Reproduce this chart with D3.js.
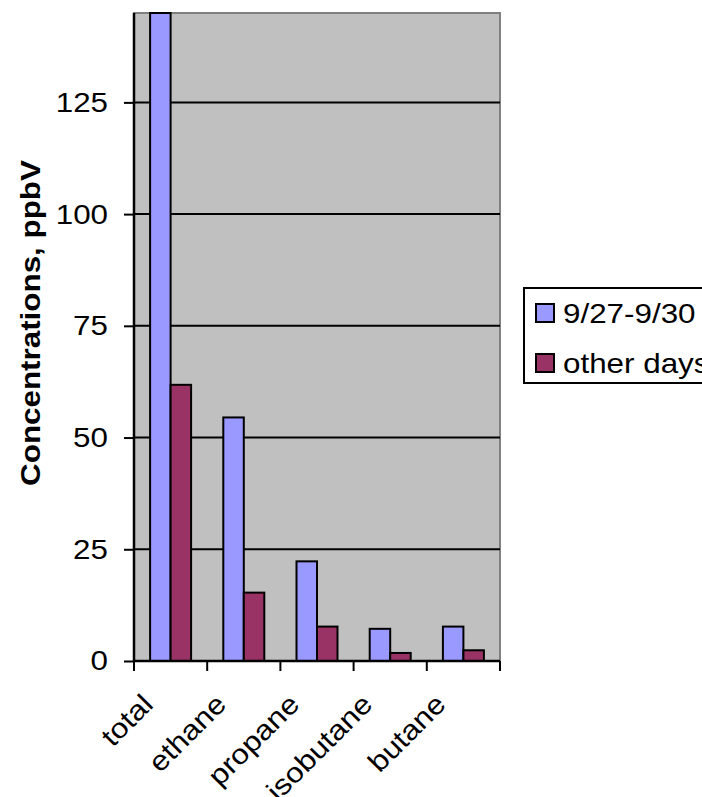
<!DOCTYPE html>
<html>
<head>
<meta charset="utf-8">
<script src="https://cdn.jsdelivr.net/npm/d3@7"></script>
<style>
  body { margin: 0; background: #fff; }
  text { font-family: Arial, "Liberation Sans", sans-serif; }
</style>
</head>
<body>
<div id="chart"></div>
<script>
// Data
const categories = ["total", "ethane", "propane", "isobutane", "butane"];
const seriesNames = ["9/27-9/30", "other days"];
const seriesA = [145, 54.5, 22.3, 7.2, 7.7];
const seriesB = [61.8, 15.3, 7.7, 1.8, 2.4];
const yTicks = [0, 25, 50, 75, 100, 125];
const colors = ["#9999FF", "#993366"];

const W = 702, H = 797;
const FS = 28;        // font size
const STRETCH = 1.12; // the source text is a bit wider than Arial

const margin = { top: 13, right: 202, bottom: 136, left: 134 },
    width = W - margin.left - margin.right,
    height = H - margin.top - margin.bottom;

const svg = d3.select("#chart")
    .append("svg")
    .attr("width", W)
    .attr("height", H);

const g = svg.append("g")
    .attr("transform", `translate(${margin.left},${margin.top})`);

// Scales
const x = d3.scaleBand()
    .domain(categories)
    .range([0, width])
    .paddingInner(0.44)
    .paddingOuter(0.22);
const xSub = d3.scaleBand()
    .domain(seriesNames)
    .range([0, x.bandwidth()]);
const y = d3.scaleLinear()
    .domain([0, 145])
    .range([height, 0]);

// Plot background
g.append("rect")
    .attr("width", width)
    .attr("height", height)
    .attr("fill", "#C0C0C0")
    .attr("stroke", "#808080")
    .attr("stroke-width", 2);

// Gridlines
g.selectAll(".grid")
    .data(yTicks.filter(d => d > 0))
    .enter().append("line")
    .attr("x1", 0)
    .attr("x2", width)
    .attr("y1", d => y(d))
    .attr("y2", d => y(d))
    .attr("stroke", "#000")
    .attr("stroke-width", 2);

// Bars
const rows = categories.map((c, i) => ({ cat: c, vals: [seriesA[i], seriesB[i]] }));
const groups = g.selectAll(".grp")
    .data(rows)
    .enter().append("g")
    .attr("transform", d => `translate(${x(d.cat)},0)`);
groups.selectAll("rect")
    .data(d => d.vals.map((v, j) => ({ name: seriesNames[j], v, j })))
    .enter().append("rect")
    .attr("x", d => xSub(d.name))
    .attr("y", d => y(d.v))
    .attr("width", xSub.bandwidth())
    .attr("height", d => height - y(d.v))
    .attr("fill", d => colors[d.j])
    .attr("stroke", "#000")
    .attr("stroke-width", 2);

// Y axis
const yAxis = g.append("g")
    .call(d3.axisLeft(y).tickValues(yTicks).tickSize(10).tickPadding(16));
yAxis.select(".domain").attr("stroke-width", 2.5).attr("d", `M0,0V${height}`);
yAxis.selectAll(".tick line").attr("stroke-width", 2);
yAxis.selectAll("text")
    .attr("font-size", FS)
    .attr("font-family", "Arial, 'Liberation Sans', sans-serif")
    .attr("fill", "#000");

// X axis: ticks at category boundaries
const step = x.step();
const bounds = d3.range(categories.length + 1).map(i => i * step);
const xAxis = g.append("g").attr("transform", `translate(0,${height})`);
xAxis.append("line")
    .attr("x1", 0).attr("x2", width)
    .attr("stroke", "#000").attr("stroke-width", 2.5);
xAxis.selectAll(".bt")
    .data(bounds)
    .enter().append("line")
    .attr("x1", d => d).attr("x2", d => d)
    .attr("y1", 0).attr("y2", 10)
    .attr("stroke", "#000").attr("stroke-width", 2);
xAxis.selectAll(".lbl")
    .data(categories)
    .enter().append("text")
    .attr("transform", d => `translate(${x(d) + x.bandwidth() / 2 - 16},${45}) rotate(-45)`)
    .attr("text-anchor", "end")
    .attr("font-size", FS)
    .attr("fill", "#000")
    .text(d => d);

// Y axis title
svg.append("text")
    .attr("transform", `translate(40,${margin.top + height / 2 - 14}) rotate(-90)`)
    .attr("text-anchor", "middle")
    .attr("font-size", FS)
    .attr("font-weight", "bold")
    .text("Concentrations, ppbV");

// Legend
const legend = svg.append("g").attr("transform", "translate(524,288)");
legend.append("rect")
    .attr("width", 190)
    .attr("height", 95)
    .attr("fill", "#fff")
    .attr("stroke", "#000")
    .attr("stroke-width", 2);
const items = legend.selectAll(".item")
    .data(seriesNames)
    .enter().append("g")
    .attr("transform", (d, i) => `translate(12,${16 + i * 50})`);
items.append("rect")
    .attr("width", 18)
    .attr("height", 18)
    .attr("fill", (d, i) => colors[i])
    .attr("stroke", "#000")
    .attr("stroke-width", 2);
items.append("text")
    .attr("x", 27)
    .attr("y", 19)
    .attr("font-size", FS)
    .text(d => d);

// widen every text a little, along its own direction
svg.selectAll("text").each(function () {
    const len = this.getComputedTextLength();
    d3.select(this)
        .attr("textLength", len * STRETCH)
        .attr("lengthAdjust", "spacingAndGlyphs");
});
</script>
</body>
</html>
